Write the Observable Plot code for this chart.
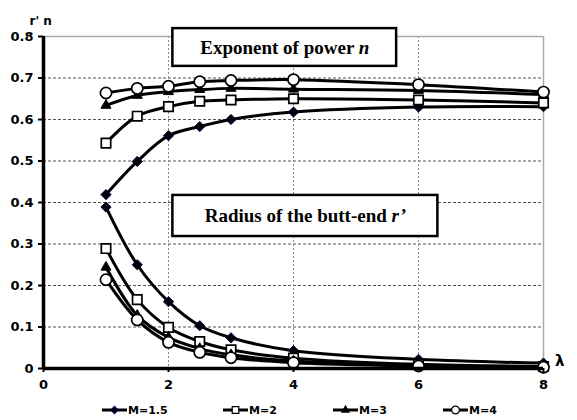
<!DOCTYPE html>
<html>
<head>
<meta charset="utf-8">
<script src="https://cdn.jsdelivr.net/npm/d3@7"></script>
<script src="https://cdn.jsdelivr.net/npm/@observablehq/plot@0.6"></script>
<style>
  html, body { margin: 0; padding: 0; background: #fff; }
  #chart { width: 577px; }
  #legend { width: 577px; height: 23px; box-sizing: border-box; padding-left: 102px; padding-top: 6px;
            font-family: "DejaVu Sans", sans-serif; font-weight: bold; font-size: 11px; color: #000; white-space: nowrap; }
  .item { display: inline-flex; align-items: center; height: 14px; }
  .item svg { margin-right: 1px; }
</style>
</head>
<body>
<div id="chart"></div>
<div id="legend"></div>
<script>
// ---- data ----
const lambda = [1, 1.5, 2, 2.5, 3, 4, 6, 8];
const seriesNames = ["M=1.5", "M=2", "M=3", "M=4"];

// exponent of power n
const nM15 = [0.419, 0.499, 0.561, 0.583, 0.600, 0.618, 0.630, 0.631];
const nM2  = [0.543, 0.608, 0.631, 0.644, 0.647, 0.650, 0.647, 0.640];
const nM3  = [0.634, 0.658, 0.667, 0.672, 0.675, 0.673, 0.670, 0.660];
const nM4  = [0.664, 0.675, 0.680, 0.691, 0.694, 0.696, 0.684, 0.666];

// radius of the butt-end r'
const rM15 = [0.389, 0.250, 0.161, 0.103, 0.074, 0.043, 0.022, 0.013];
const rM2  = [0.289, 0.166, 0.099, 0.065, 0.045, 0.025, 0.010, 0.005];
const rM3  = [0.244, 0.128, 0.075, 0.048, 0.033, 0.018, 0.008, 0.004];
const rM4  = [0.214, 0.117, 0.063, 0.039, 0.026, 0.014, 0.006, 0.003];

const xTicks = [0, 2, 4, 6, 8];
const xTickLabels = ["0", "2", "4", "6", "8"];
const yTicks = [0, 0.1, 0.2, 0.3, 0.4, 0.5, 0.6, 0.7, 0.8];
const yTickLabels = ["0", "0.1", "0.2", "0.3", "0.4", "0.5", "0.6", "0.7", "0.8"];

// annotation boxes
const boxText = ["Exponent of power ", "Radius of the butt-end "];
const boxItalic = ["n", "r\u2019"];
const boxX1 = [2.07, 2.07];
const boxX2 = [5.65, 6.31];
const boxY1 = [0.728, 0.318];
const boxY2 = [0.819, 0.417];

// ---- build tables ----
const nVals = [nM15, nM2, nM3, nM4];
const rVals = [rM15, rM2, rM3, rM4];
const symbols = ["diamond2", "square", "triangle2", "circle"];
const fills = ["black", "white", "black", "white"];
const strokes = ["#000050", "black", "black", "black"];
const radii = [4.6, 5.3, 4.8, 5.6];

const rows = [];
seriesNames.forEach((s, k) => {
  [["n", nVals[k]], ["r", rVals[k]]].forEach(([q, vals]) => {
    vals.forEach((v, i) => rows.push({lambda: lambda[i], value: v, series: s, k, qty: q}));
  });
});
const boxes = boxText.map((t, i) => ({t, it: boxItalic[i], x1: boxX1[i], x2: boxX2[i], y1: boxY1[i], y2: boxY2[i]}));

const marks = [
  Plot.gridY(yTicks.filter(v => v > 0 && v < 0.8), {stroke: "#555", strokeOpacity: 1, strokeDasharray: "3,2", strokeWidth: 1}),
  Plot.gridX(xTicks.filter(v => v > 0 && v < 8), {stroke: "#888", strokeOpacity: 1, strokeDasharray: "2,2", strokeWidth: 1}),
  Plot.ruleY([0.8], {stroke: "#aaa", strokeWidth: 1.5}),
  Plot.ruleX([8], {stroke: "#aaa", strokeWidth: 1.5}),
  Plot.rect(boxes, {x1: "x1", x2: "x2", y1: "y1", y2: "y2", fill: "white", stroke: "black", strokeWidth: 2.5}),
  Plot.text(boxes, {x: d => (d.x1 + d.x2) / 2, y: d => (d.y1 + d.y2) / 2, text: d => d.t + d.it,
    fontFamily: "Liberation Serif, Times New Roman, serif", fontSize: 19, fontWeight: "bold", fill: "black", className: "boxlabel"}),
];
seriesNames.forEach((s, k) => {
  const data = rows.filter(d => d.k === k);
  marks.push(Plot.line(data, {x: "lambda", y: "value", z: "qty", curve: "catmull-rom", stroke: "black", strokeWidth: 3}));
  marks.push(Plot.dot(data, {x: "lambda", y: "value", symbol: symbols[k], r: radii[k], fill: fills[k], stroke: strokes[k], strokeWidth: k % 2 ? 1.7 : 1}));
});
marks.push(
  Plot.ruleX([0], {stroke: "black", strokeWidth: 3.5}),
  Plot.ruleY([0], {stroke: "black", strokeWidth: 3.5}),
  Plot.axisY({ticks: yTicks, tickFormat: (d, i) => yTickLabels[i], tickSize: 5, tickPadding: 5, label: null, strokeWidth: 2, fontSize: 13}),
  Plot.axisX({ticks: xTicks, tickFormat: (d, i) => xTickLabels[i], tickSize: 4, tickPadding: 7, label: null, strokeWidth: 2, fontSize: 13}),
  Plot.text(["r' n"], {frameAnchor: "top-left", dx: -14, dy: -20, fontSize: 12, fill: "black"}),
  Plot.text(["\u03bb"], {frameAnchor: "bottom-right", dx: 21, dy: -3, fontSize: 15, fill: "black"})
);

const plot = Plot.plot({
  width: 577,
  height: 397,
  marginLeft: 43,
  marginRight: 34,
  marginTop: 36,
  marginBottom: 29,
  x: {domain: [0, 8]},
  y: {domain: [0, 0.8]},
  style: {fontFamily: "DejaVu Sans, sans-serif", fontWeight: "bold", fontSize: "13px", color: "black", background: "white", overflow: "visible"},
  marks
});
document.getElementById("chart").appendChild(plot);

// italic part of box labels
d3.select(plot).selectAll("g.boxlabel text").each(function() {
  const el = d3.select(this);
  const full = this.textContent;
  const b = boxes.find(b => b.t + b.it === full);
  if (!b) return;
  el.text(null);
  el.append("tspan").text(b.t);
  el.append("tspan").attr("font-style", "italic").text(b.it);
});

// legend
const legend = d3.select("#legend");
const itemWidths = [121, 110, 110, 110];
seriesNames.forEach((s, k) => {
  const item = legend.append("div").attr("class", "item").style("width", itemWidths[k] + "px");
  const sw = item.append("svg").attr("width", 25).attr("height", 12);
  sw.append("line").attr("x1", 0).attr("x2", 25).attr("y1", 6).attr("y2", 6).attr("stroke", "black").attr("stroke-width", 3);
  const sym = {diamond2: d3.symbolDiamond2, square: d3.symbolSquare, triangle2: d3.symbolTriangle2, circle: d3.symbolCircle}[symbols[k]];
  sw.append("path").attr("transform", "translate(12.5,6)")
    .attr("d", d3.symbol(sym, Math.PI * (radii[k] * 0.7) ** 2)())
    .attr("fill", fills[k]).attr("stroke", strokes[k]).attr("stroke-width", 1.2);
  item.append("span").text(s);
});
</script>
</body>
</html>
